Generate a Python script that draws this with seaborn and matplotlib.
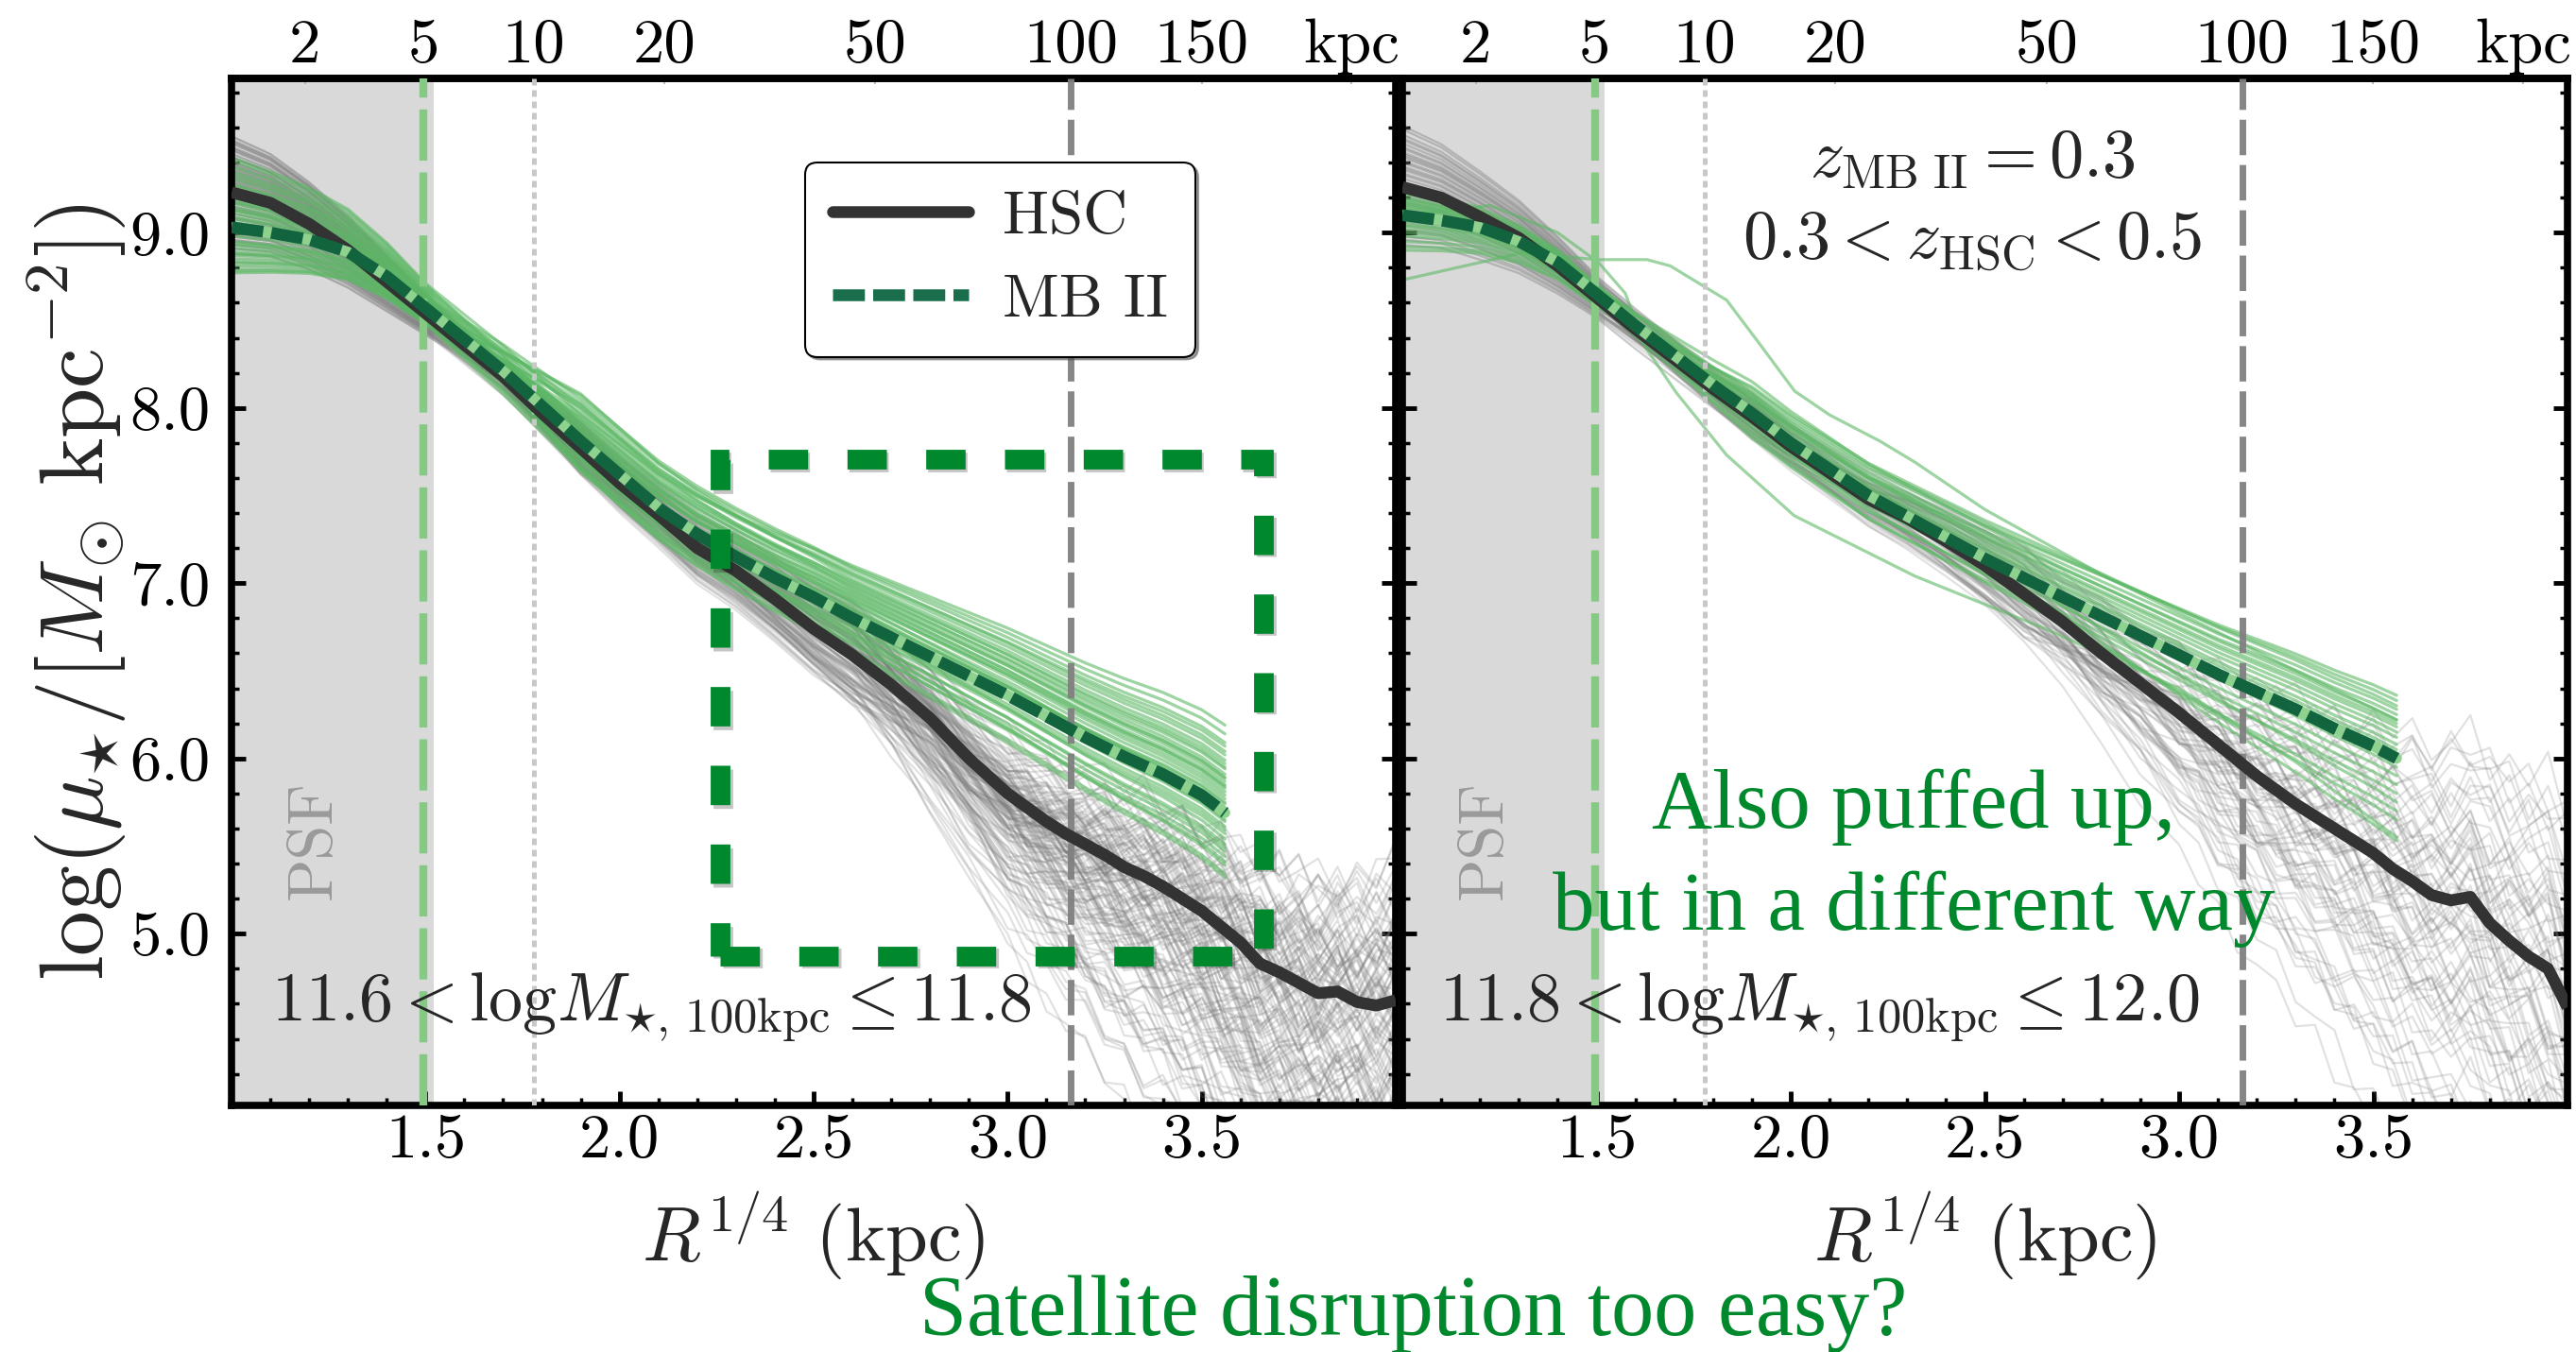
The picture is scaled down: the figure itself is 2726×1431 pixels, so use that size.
import numpy as np
import pandas as pd
import matplotlib
matplotlib.use("Agg")
import matplotlib.pyplot as plt
import seaborn as sns
from matplotlib.ticker import FixedLocator, MultipleLocator, FormatStrFormatter, NullLocator
from matplotlib.patches import Rectangle
from matplotlib.lines import Line2D
import matplotlib.patheffects as pe

# ---------------- data ----------------
# radius grid in R^{1/4} (kpc^{1/4})
R14_HSC = [1.0, 1.1, 1.2, 1.3, 1.4, 1.5, 1.6, 1.7, 1.8, 1.9, 2.0, 2.1, 2.2, 2.3, 2.4, 2.5, 2.6,
           2.7, 2.8, 2.9, 3.0, 3.05, 3.1, 3.15, 3.2, 3.25, 3.3, 3.35, 3.4, 3.45, 3.5, 3.55,
           3.6, 3.65, 3.7, 3.75, 3.8, 3.85, 3.9, 3.95, 4.0]
R14_MB = [1.0, 1.1, 1.2, 1.3, 1.4, 1.5, 1.6, 1.7, 1.8, 1.9, 2.0, 2.1, 2.2, 2.3, 2.4, 2.5, 2.6,
          2.7, 2.8, 2.9, 3.0, 3.1, 3.2, 3.3, 3.4, 3.5, 3.56]

# median profiles log(mu)
HSC_L = [9.23, 9.17, 9.05, 8.90, 8.72, 8.54, 8.36, 8.18, 7.97, 7.77, 7.57, 7.39, 7.20, 7.07, 6.91,
         6.74, 6.59, 6.42, 6.23, 6.00, 5.80, 5.72, 5.64, 5.57, 5.51, 5.45, 5.38, 5.33, 5.27, 5.20,
         5.13, 5.04, 4.95, 4.83, 4.78, 4.72, 4.66, 4.67, 4.61, 4.59, 4.62]
HSC_R = [9.26, 9.20, 9.09, 8.97, 8.81, 8.63, 8.45, 8.28, 8.11, 7.95, 7.78, 7.63, 7.48, 7.37, 7.24,
         7.10, 6.94, 6.78, 6.60, 6.43, 6.26, 6.17, 6.08, 5.99, 5.90, 5.82, 5.74, 5.67, 5.60, 5.53,
         5.46, 5.37, 5.30, 5.22, 5.19, 5.21, 5.06, 4.96, 4.87, 4.80, 4.58]
MB_L = [9.03, 9.00, 8.96, 8.89, 8.75, 8.57, 8.39, 8.21, 8.01, 7.81, 7.62, 7.43, 7.28, 7.15, 7.03,
        6.92, 6.80, 6.69, 6.58, 6.47, 6.36, 6.24, 6.12, 6.01, 5.91, 5.79, 5.69]
MB_R = [9.10, 9.07, 9.03, 8.95, 8.83, 8.65, 8.47, 8.30, 8.13, 7.97, 7.80, 7.65, 7.50, 7.38, 7.26,
        7.14, 7.03, 6.92, 6.81, 6.70, 6.59, 6.48, 6.38, 6.28, 6.17, 6.07, 6.00]

# individual profiles: offsets from the median (0.01 dex) at R^1/4 = 1.0, 1.9, 2.6, end
HSC_L_IN = [-30, 25, 10, -5, 32, -18, 5, 20, -12, 15, -25, 0, 28, -8, 12, -35, 18, 3, -20, 22,
            -3, 8, -15, 30, -28, 14, -10, 6, 24, -22, 2, 17, -6, 11, -32, 26, -14, 9, -2, 20,
            -24, 13, 4, -17, 29, -9, 16, -1, 7, -27]
HSC_L_MID = [5, -8, 12, -3, 0, 9, -12, 4, 14, -6, 7, -14, 2, 10, -5, 8, -10, 15, -2, 5,
             -11, 11, 0, -7, 9, 3, -15, 13, -9, 6, 1, -4, 12, -10, 8, -1, 10, 2, -8, 5,
             -5, 14, -12, 7, 1, 9, -6, 11, -10, 4]
HSC_L_B = [10, -15, 25, -5, 0, 18, -20, 5, 28, -10, 12, -25, 3, 20, -8, 15, -18, 30, -3, 8,
           -22, 22, 0, -12, 16, 6, -28, 26, -16, 10, 2, -6, 24, -20, 14, -2, 19, 4, -14, 9,
           -9, 27, -24, 13, 1, 17, -11, 21, -19, 7]
HSC_L_OUT = [-40, 30, -90, 10, -150, -20, 50, -60, 20, -120, -5, -80, 40, -30, -200, 60, -45, 0,
             -100, 25, -70, -15, -130, 35, -55, 15, -180, -25, 75, -85, 5, -110, -35, 45, -65,
             -160, 20, -50, -10, -95, 65, -75, -140, 30, -20, -115, 10, -60, -250, 0]

HSC_R_IN = [-28, 22, 8, -10, 33, -15, 2, 18, -22, 12, -33, 27, -5, 15, -18, 5, 30, -8, 20, -25,
            10, -2, 25, -12, 0, 35, -20, 14, -6, 23, -30, 7, 17, -14, 3, 28, -9, 11, -24, 19]
HSC_R_MID = [4, -6, 10, -12, 2, 8, -9, 13, -4, 6, -11, 9, 0, -7, 12, -3, 5, -10, 7, 1,
             -8, 11, -5, 3, -13, 9, -2, 6, -9, 14, -6, 2, 10, -4, 7, -11, 5, -1, 8, -7]
HSC_R_B = [12, -18, 22, -5, 5, -20, 15, -10, 27, -2, 8, -15, 20, 0, -22, 10, -8, 25, -13, 3,
           -25, 18, 6, -6, 14, -17, 24, 1, -11, 9, -19, 16, -3, 21, -9, 4, -14, 11, -24, 19]
HSC_R_OUT = [-30, 40, -100, 20, -60, 110, -150, 0, -80, 60, -20, -120, 30, -45, 80, -180, -10, 50,
             -70, 15, -220, 90, -35, -90, 25, -140, 70, -55, 5, -110, 45, -25, -160, 35, -65, 100,
             -5, -85, 10, -40]

MB_L_IN = [40, -26, 10, -15, 25, 0, -20, 15, 30, -10, 5, -24, 18, -5, 35, -18, 8, 22, -12, 2,
           28, -22, 12, -8, 20, -14, 3, 38, -20, 14, -3, 24, -16, 6, 32, -9, 16, -25, 0, 10]
MB_L_MID = [15, -17, 5, 27, -10, 8, -15, 20, 2, -5, 12, -12, 24, 0, 10, -8, 18, -17, 6, 22,
            -3, 14, -14, 9, 1, 26, -10, 4, 16, -6, 11, -16, 19, -1, 7, 13, -9, 21, -4, 3]
MB_L_B = [30, -20, 10, 22, -5, 15, -15, 26, 5, 0, 18, -10, 28, 3, 12, -8, 20, -18, 8, 24,
          -2, 16, -12, 11, 6, 29, -6, 1, 19, -3, 14, -14, 25, 4, 9, 21, -9, 17, -1, 13]
MB_L_OUT = [50, -37, 15, 30, -10, 20, -25, 35, 5, -5, 25, -30, 40, 0, 12, -20, 28, -35, 8, 33,
            -15, 18, -22, 10, 3, 45, -12, -2, 22, -8, 14, -28, 38, 6, 2, 26, -18, 20, -4, 16]

MB_R_IN = [7, -5, 12, -10, 2, -15, 5, 15, -8, 0, -12, 9, -3, 10, -18, 4, -6, 13, -1, 6, -20, 8]
MB_R_MID = [8, -6, 12, 3, -10, 15, 0, 10, -4, 6, -12, 18, 2, -8, 9, 4, 14, -2, 7, -14, 11, 1]
MB_R_B = [15, -10, 20, 5, -8, 23, 0, 12, -5, 8, -14, 18, 3, -2, 10, 6, 21, -6, 13, -12, 16, 2]
MB_R_OUT = [25, -20, 36, 5, -15, 30, -5, 18, -10, 12, -30, 28, 0, -25, 15, 8, 33, -47, 20, -35, 22, 3]

# two odd MB II profiles in the right panel
ODD1_R14 = [1.0, 1.31, 1.5, 1.63, 1.69, 1.835, 1.92, 2.01, 2.1, 2.23, 2.32, 2.5, 2.8, 3.1, 3.3, 3.56]
ODD1_MU = [8.73, 8.885, 8.846, 8.846, 8.81, 8.615, 8.365, 8.096, 7.96, 7.81, 7.69, 7.42, 7.05,
           6.72, 6.50, 6.22]
ODD2_R14 = [1.0, 1.226, 1.4, 1.505, 1.574, 1.626, 1.705, 1.835, 2.009, 2.32, 2.655, 3.0, 3.3, 3.56]
ODD2_MU = [9.10, 9.155, 9.00, 8.83, 8.654, 8.346, 8.088, 7.731, 7.385, 7.04, 6.74, 6.40, 5.98, 5.55]

# noisy outskirts of individual HSC profiles (dex, scaled below)
JIT = [0.3, -0.5, 0.8, -0.2, 0.6, -0.9, 0.1, 0.7, -0.4, 0.9, -0.7, 0.2, -0.3, 0.5, -0.8, 0.4,
       -0.1, 0.9, -0.6, 0.3, -0.9, 0.6, -0.2, 0.8, -0.5, 0.1, 0.7, -0.8, 0.4, -0.3, 0.9, -0.4,
       0.2, -0.7, 0.5, -0.1, 0.8, -0.6, 0.3, -0.9, 0.6]

TOP_KPC = [2, 5, 10, 20, 50, 100, 150, 228]
TOP_LABELS = ["2", "5", "10", "20", "50", "100", "150", "kpc"]
XTICKS = [1.5, 2.0, 2.5, 3.0, 3.5]
YTICKS = [5.0, 6.0, 7.0, 8.0, 9.0]

# ---------------- style ----------------
sns.set_theme(style="white")
plt.rcParams.update({
    "font.family": ["cmr10", "DejaVu Serif"],
    "mathtext.fontset": "cm",
    "axes.formatter.use_mathtext": True,
    "axes.unicode_minus": False,
    "axes.linewidth": 5.5,
    "axes.edgecolor": "black",
    "xtick.color": "black",
    "ytick.color": "black",
})

C_HSC = "#333333"
C_MB = "#11643e"
C_MB_LIGHT = "#8fd18f"
C_THIN_G = "#5cb865"
C_THIN_K = "#7a7a7a"
C_ANN = "#00882d"


def build(xg, med, A, M, B, C, xend, jitter=False, combos=1):
    xg = np.asarray(xg, float)
    med = np.asarray(med, float)
    amp = np.interp(xg, [2.4, 3.0, 4.0], [0.0, 0.07, 0.2])
    n = len(A)
    frames = []
    gid = 0
    for k in range(combos):
        for i in range(n):
            a = A[i]
            m = M[(i + 7 * k) % n]
            b = B[(i + 13 * k) % n]
            c = C[(i + 29 * k) % n]
            off = np.interp(xg, [1.0, 1.5, 1.9, 2.6, xend],
                            [a * 0.01, a * 0.0035, m * 0.01, b * 0.01, c * 0.01])
            y = med + off
            if jitter:
                y = y + np.roll(np.asarray(JIT), 5 * i + 11 * k)[:len(xg)] * amp
            frames.append(pd.DataFrame({"r14": xg, "mu": y, "gid": gid}))
            gid += 1
    return pd.concat(frames, ignore_index=True)


W, H = 2726, 1431
fig = plt.figure(figsize=(W / 100, H / 100), dpi=100)
ax_bottom = 1 - 1170 / H
ax_h = 1087 / H
axL = fig.add_axes([245 / W, ax_bottom, 1232 / W, ax_h])
axR = fig.add_axes([1484 / W, ax_bottom, 1233 / W, ax_h])

panels = [
    (axL, HSC_L, MB_L, (HSC_L_IN, HSC_L_MID, HSC_L_B, HSC_L_OUT), (MB_L_IN, MB_L_MID, MB_L_B, MB_L_OUT), 3),
    (axR, HSC_R, MB_R, (HSC_R_IN, HSC_R_MID, HSC_R_B, HSC_R_OUT), (MB_R_IN, MB_R_MID, MB_R_B, MB_R_OUT), 2),
]

for ax, hsc, mb, gk, gg, ncomb in panels:
    ax.axvspan(1.0, 1.52, color="#d9d9d9", lw=0, zorder=0)
    dfk = build(R14_HSC, hsc, *gk, xend=4.0, jitter=True, combos=ncomb)
    sns.lineplot(data=dfk, x="r14", y="mu", units="gid", estimator=None, sort=False,
                 color=C_THIN_K, alpha=0.22, lw=1.6, legend=False, ax=ax, zorder=1)
    dfg = build(R14_MB, mb, *gg, xend=3.56)
    sns.lineplot(data=dfg, x="r14", y="mu", units="gid", estimator=None, sort=False,
                 color=C_THIN_G, alpha=0.6, lw=2.3, legend=False, ax=ax, zorder=2)
    if ax is axR:
        for xs, ys in [(ODD1_R14, ODD1_MU), (ODD2_R14, ODD2_MU)]:
            sns.lineplot(x=xs, y=ys, sort=False, color=C_THIN_G, alpha=0.6, lw=2.3,
                         legend=False, ax=ax, zorder=2)

    ax.axvline(5 ** 0.25, color="#85c985", lw=6, ls=(0, (6.5, 1.5)), zorder=3)
    ax.axvline(10 ** 0.25, color="#c8c8c8", lw=3.6, ls=(0, (1.4, 1.0)), zorder=3)
    ax.axvline(100 ** 0.25, color="#808080", lw=5, ls=(0, (5.4, 1.5)), alpha=0.95, zorder=3)

    sns.lineplot(x=R14_HSC, y=hsc, sort=False, color=C_HSC, lw=9, ax=ax, zorder=5,
                 solid_capstyle="butt", legend=False)
    sns.lineplot(x=R14_MB, y=mb, sort=False, color=C_MB_LIGHT, lw=8, ax=ax, zorder=5.5,
                 legend=False)
    sns.lineplot(x=R14_MB, y=mb, sort=False, color=C_MB, lw=9, ax=ax, zorder=6,
                 linestyle=(0, (2.7, 0.7)), legend=False)

    ax.set_ylabel("")
    ax.set_xlim(1.0, 4.0)
    ax.set_ylim(4.02, 9.88)
    ax.xaxis.set_major_locator(FixedLocator(XTICKS))
    ax.xaxis.set_minor_locator(MultipleLocator(0.1))
    ax.yaxis.set_major_locator(FixedLocator(YTICKS))
    ax.yaxis.set_minor_locator(MultipleLocator(0.2))
    ax.xaxis.set_major_formatter(FormatStrFormatter("%.1f"))
    ax.yaxis.set_major_formatter(FormatStrFormatter("%.1f"))
    ax.tick_params(which="major", direction="in", length=11, width=3.5, top=False,
                   right=True, left=True, bottom=True, labelsize=48)
    ax.tick_params(which="minor", direction="in", length=6, width=2.5, top=False,
                   right=True, left=True, bottom=True)
    ax.tick_params(axis="y", which="major", pad=16)
    ax.tick_params(axis="x", which="major", pad=6)
    for s in ax.spines.values():
        s.set_linewidth(5.5)
        s.set_color("black")

    sec = ax.secondary_xaxis("top")
    sec.set_xticks(np.array(TOP_KPC, float) ** 0.25, labels=TOP_LABELS)
    sec.xaxis.set_minor_locator(NullLocator())
    sec.tick_params(direction="in", length=4, width=1.2, color="#aaaaaa",
                    labelcolor="black", labelsize=48, pad=3)
    sec.spines["top"].set_linewidth(5.5)

    ax.set_xlabel(r"$R^{1/4}\ (\mathrm{kpc})$", fontsize=58)
    ax.xaxis.set_label_coords(0.5, -0.081)
    ax.xaxis.label.set_va("top")

    ax.text(0.071, 0.2585, "PSF", rotation=90, color="#9a9a9a", fontsize=48,
            ha="center", va="center", transform=ax.transAxes, zorder=9)

axR.tick_params(axis="y", labelleft=False)

axL.set_ylabel(r"$\log (\mu_{\star}/[M_{\odot}\ \mathrm{kpc}^{-2}])$", fontsize=69)
axL.yaxis.set_label_coords(-0.0885, 0.5)

# mass-bin annotations
axL.text(0.034, 0.083, r"$11.6 < \mathrm{log}M_{\star,\,100\mathrm{kpc}} \leq 11.8$",
         transform=axL.transAxes, fontsize=52, ha="left", va="baseline", zorder=9)
axR.text(0.032, 0.083, r"$11.8 < \mathrm{log}M_{\star,\,100\mathrm{kpc}} \leq 12.0$",
         transform=axR.transAxes, fontsize=52, ha="left", va="baseline", zorder=9)

axR.text(0.489, 0.904, r"$z_{\mathrm{MB\ II}} = 0.3$", transform=axR.transAxes,
         fontsize=52, ha="center", va="baseline", zorder=9)
axR.text(0.489, 0.8247, r"$0.3 < z_{\mathrm{HSC}} < 0.5$", transform=axR.transAxes,
         fontsize=52, ha="center", va="baseline", zorder=9)

# legend
handles = [Line2D([], [], color=C_HSC, lw=9),
           Line2D([], [], color="#1b6e4b", lw=9, ls=(0, (2.7, 0.7)))]
leg = axL.legend(handles, ["HSC", "MB II"], loc="upper left", bbox_to_anchor=(0.4927, 0.918),
                 borderaxespad=0, fontsize=47, handlelength=2.2, handletextpad=0.55,
                 labelspacing=0.45, borderpad=0.45, fancybox=True, shadow=True,
                 framealpha=1, edgecolor="black")
leg.get_frame().set_linewidth(1.5)
leg.set_zorder(12)

# green dashed box
box = Rectangle((2.259, 4.874), 1.40, 2.832, fill=False, ec=C_ANN, lw=15,
                ls=(0, (2, 2)), zorder=11, clip_on=False)
box.set_path_effects([pe.SimpleLineShadow(offset=(2, -2), shadow_color="k", alpha=0.25),
                      pe.Normal()])
axL.add_patch(box)

# green commentary
axR.text(0.439, 0.2708, "Also puffed up,", transform=axR.transAxes, fontsize=64,
         family="Liberation Serif", color=C_ANN, ha="center", va="baseline", zorder=9)
axR.text(0.439, 0.1711, "but in a different way", transform=axR.transAxes, fontsize=64,
         family="Liberation Serif", color=C_ANN, ha="center", va="baseline", zorder=9)
fig.text(1496 / W, 1 - 1413 / H, "Satellite disruption too easy?", fontsize=65,
         family="Liberation Serif", color=C_ANN, ha="center", va="baseline")

fig.savefig("out.png", dpi=100)
